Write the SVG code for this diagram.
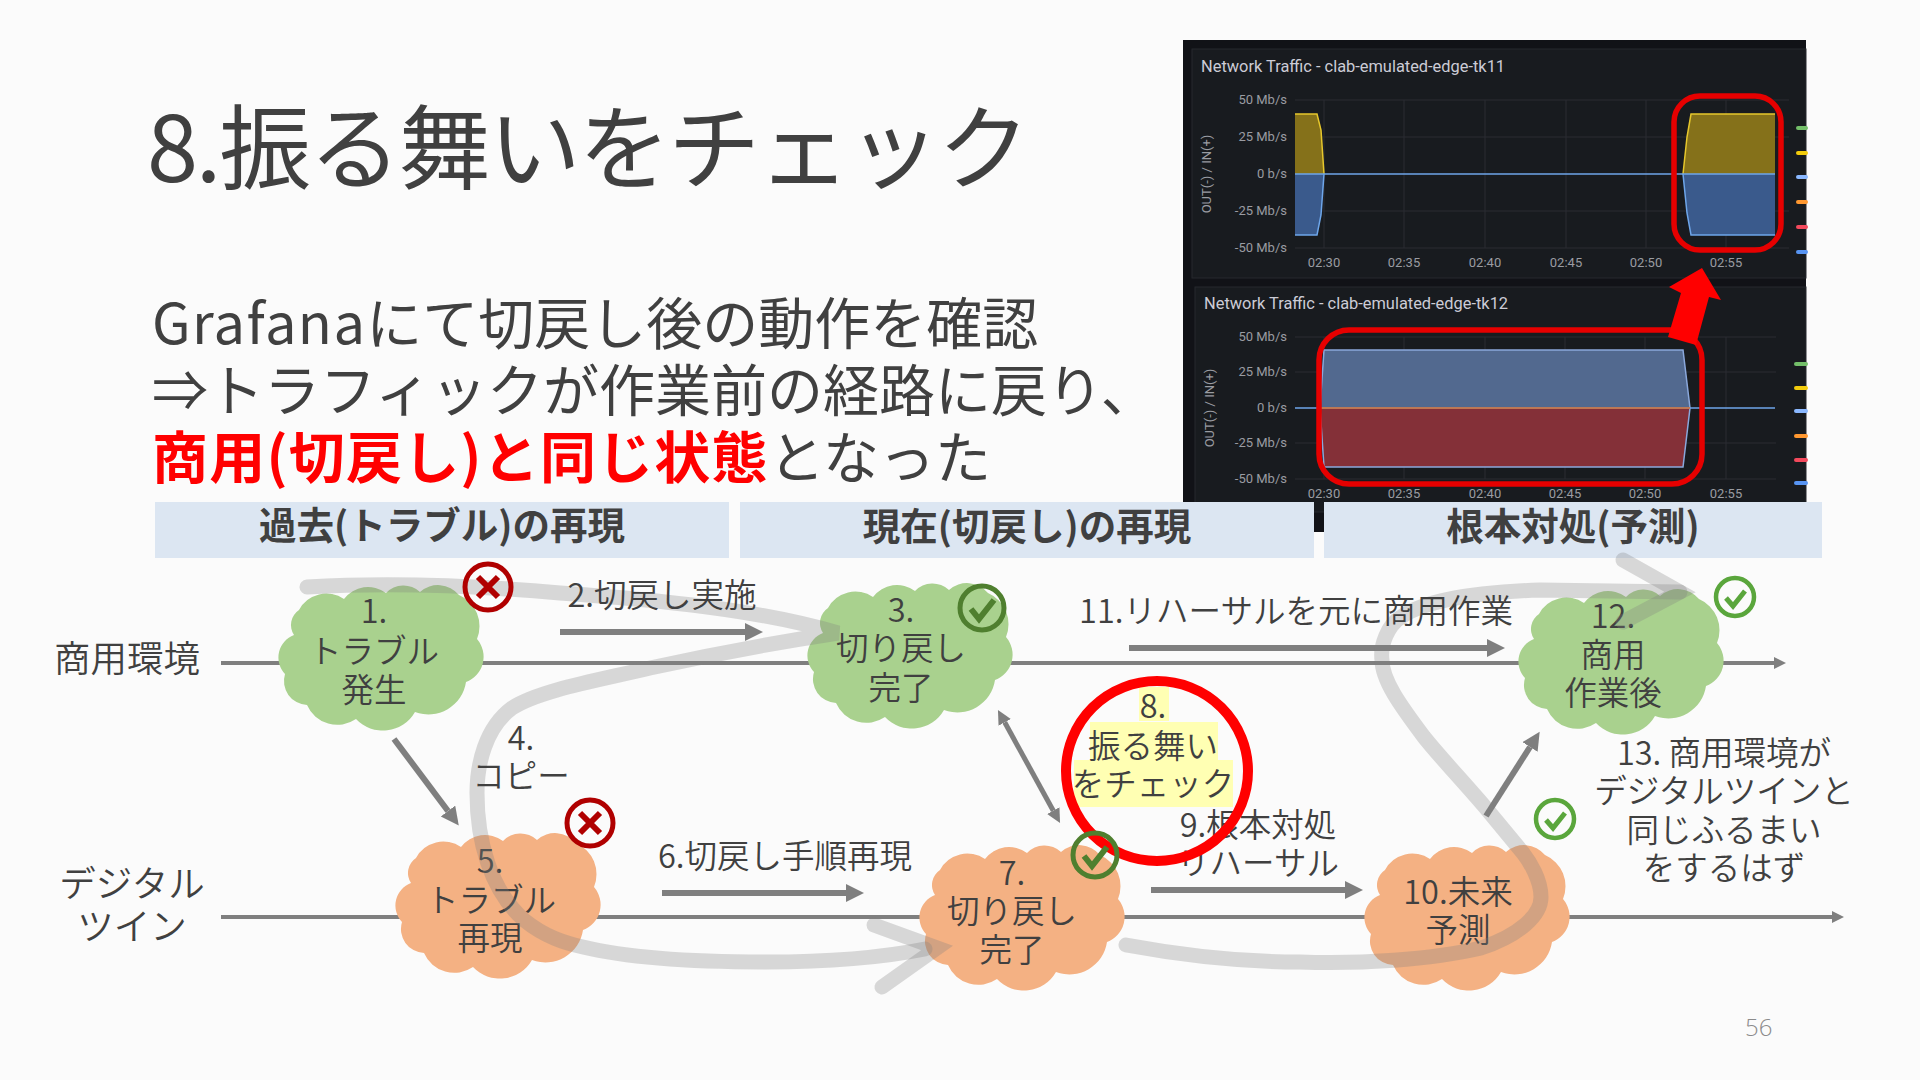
<svg xmlns="http://www.w3.org/2000/svg" width="1920" height="1080" viewBox="0 0 1920 1080">
<style>
text{font-family:"Noto Sans CJK JP","Noto Sans",sans-serif;font-weight:350;fill:#404040}
.t{font-size:32.5px;text-anchor:middle}
.h{font-size:37.5px;font-weight:700;text-anchor:middle}
.b{font-size:56px;font-weight:400}
.l{font-size:36.5px;text-anchor:middle}
.g{font-family:Roboto,"Liberation Sans",sans-serif;font-size:13px;fill:#9a9ca2;font-weight:400}
.e{text-anchor:end}.m{text-anchor:middle}
.ti{font-family:Roboto,"Liberation Sans",sans-serif;font-size:16.4px;fill:#ccccd6;font-weight:400}
.grid{stroke:#2a2d32;stroke-width:1;fill:none}
.main{stroke:#7f7f7f;stroke-width:4;fill:none}
.thick{stroke:#7f7f7f;stroke-width:6;fill:none}
.flow{fill:none;stroke:#7f7f7f;stroke-opacity:.29;stroke-width:15;stroke-linecap:round;stroke-linejoin:miter}
.green{fill:#a9d18e}.orange{fill:#f4b183}
.xr{fill:none;stroke:#b00000;stroke-width:5}
.cd{fill:none;stroke:#4f7f2f;stroke-width:5}
.cl{fill:none;stroke:#5aa63c;stroke-width:4.5}
.rr{fill:none;stroke:#e60000;stroke-width:5.5}
.band{fill:#dce6f2}
.hl{fill:#ffffb3}
</style>
<defs>
<path id="cloud" d="M67,12A30,30 0 0 1 109,6A24,24 0 0 1 143,5A27,27 0 0 1 182,8A34,34 0 0 1 200,52A27,27 0 0 1 189,95A38,38 0 0 1 138,125A37,37 0 0 1 79,132A33,33 0 0 1 30,118A24,24 0 0 1 8,87A24,24 0 0 1 17,48A18,18 0 0 1 22,23A31,31 0 0 1 67,12Z"/>
<marker id="a12" markerUnits="userSpaceOnUse" markerWidth="13" markerHeight="13" refX="0" refY="6" orient="auto"><path d="M0,0L12,6L0,12Z" fill="#7f7f7f"/></marker>
<marker id="a18" markerUnits="userSpaceOnUse" markerWidth="19" markerHeight="19" refX="0" refY="9" orient="auto"><path d="M0,0L18,9L0,18Z" fill="#7f7f7f"/></marker>
<marker id="a14" markerUnits="userSpaceOnUse" markerWidth="15" markerHeight="15" refX="0" refY="7" orient="auto-start-reverse"><path d="M0,0L14,7L0,14Z" fill="#7f7f7f"/></marker>
</defs>
<rect width="1920" height="1080" fill="#fbfbfb"/>

<g id="screenshot">
<rect x="1183" y="40" width="623" height="492" fill="#111217"/>
<rect x="1192" y="49" width="614" height="229" fill="#181b1f" stroke="#26292e"/>
<rect x="1195" y="287" width="611" height="225" fill="#181b1f" stroke="#26292e"/>
<text class="ti" x="1201" y="72">Network Traffic - clab-emulated-edge-tk11</text>
<text class="ti" x="1204" y="309">Network Traffic - clab-emulated-edge-tk12</text>
<path class="grid" d="M1295,100H1789M1295,137H1789M1295,211H1789M1295,248H1789M1324,100V248M1404,100V248M1485,100V248M1566,100V248M1646,100V248M1726,100V248"/>
<path class="grid" d="M1295,337H1776M1295,372H1776M1295,443H1776M1295,479H1776M1324,337V479M1404,337V479M1485,337V479M1565,337V479M1645,337V479M1726,337V479"/>
<path d="M1295,174V114H1317L1321,130L1324,174Z" fill="#85711a"/>
<path d="M1295,174V235H1317L1321,215L1324,174Z" fill="#3a5a8c"/>
<path d="M1683,174L1687,137L1691,114H1775V174Z" fill="#85711a"/>
<path d="M1683,174L1687,213L1691,235H1775V174Z" fill="#3a5a8c"/>
<path d="M1295,114H1317L1321,130L1324,174M1683,174L1687,137L1691,114H1775" fill="none" stroke="#e6c72c" stroke-width="1.5"/>
<path d="M1295,235H1317L1321,215L1324,174M1683,174L1687,213L1691,235H1775" fill="none" stroke="#6ea6ea" stroke-width="1.5"/>
<path d="M1295,174H1775" stroke="#6ea6ea" stroke-width="1.5"/>
<path d="M1320,408L1324,350H1683L1690,408Z" fill="#52698f"/>
<path d="M1320,408L1324,467H1683L1690,408Z" fill="#843038"/>
<path d="M1320,408L1324,350H1683L1690,408L1683,467H1324Z" fill="none" stroke="#8aa8dc" stroke-width="1.5"/>
<path d="M1295,408H1775" stroke="#6ea6ea" stroke-width="1.5"/>
<path d="M1320,408H1690" stroke="#d86f2f" stroke-width="1.5"/>
<g class="legend" fill="none" stroke-width="4" stroke-linecap="round">
<path d="M1798,128H1806" stroke="#73bf69"/><path d="M1798,153H1806" stroke="#f2cc0c"/><path d="M1798,177H1806" stroke="#8ab8ff"/><path d="M1798,202H1806" stroke="#ff9830"/><path d="M1798,227H1806" stroke="#f2495c"/><path d="M1798,252H1806" stroke="#5794f2"/>
<path d="M1796,364H1806" stroke="#73bf69"/><path d="M1796,388H1806" stroke="#f2cc0c"/><path d="M1796,411H1806" stroke="#8ab8ff"/><path d="M1796,436H1806" stroke="#ff9830"/><path d="M1796,460H1806" stroke="#f2495c"/><path d="M1796,483H1806" stroke="#5794f2"/>
</g>
<text class="g e" x="1287" y="104">50 Mb/s</text><text class="g e" x="1287" y="141">25 Mb/s</text><text class="g e" x="1287" y="178">0 b/s</text><text class="g e" x="1287" y="215">-25 Mb/s</text><text class="g e" x="1287" y="252">-50 Mb/s</text>
<text class="g m" x="1324" y="267">02:30</text><text class="g m" x="1404" y="267">02:35</text><text class="g m" x="1485" y="267">02:40</text><text class="g m" x="1566" y="267">02:45</text><text class="g m" x="1646" y="267">02:50</text><text class="g m" x="1726" y="267">02:55</text>
<text class="g e" x="1287" y="341">50 Mb/s</text><text class="g e" x="1287" y="376">25 Mb/s</text><text class="g e" x="1287" y="412">0 b/s</text><text class="g e" x="1287" y="447">-25 Mb/s</text><text class="g e" x="1287" y="483">-50 Mb/s</text>
<text class="g m" x="1324" y="498">02:30</text><text class="g m" x="1404" y="498">02:35</text><text class="g m" x="1485" y="498">02:40</text><text class="g m" x="1565" y="498">02:45</text><text class="g m" x="1645" y="498">02:50</text><text class="g m" x="1726" y="498">02:55</text>
<text class="g m" transform="translate(1211,174) rotate(-90)">OUT(-) / IN(+)</text>
<text class="g m" transform="translate(1214,408) rotate(-90)">OUT(-) / IN(+)</text>
<rect class="rr" x="1674" y="96" width="107" height="154" rx="26"/>
<rect class="rr" x="1319" y="330" width="383" height="154" rx="30"/>
<path d="M1702,268L1669,287L1681,293L1668,337L1696,345L1709,297L1721,300Z" fill="#ff0000"/>
</g>

<g id="title"><text x="147" y="182" style="font-size:92px;font-weight:400;letter-spacing:-2.2px">8.振る舞いをチェック</text></g>
<g id="body">
<text class="b" x="152" y="344"><tspan style="letter-spacing:1.4px">Grafana</tspan>にて切戻し後の動作を確認</text>
<text class="b" x="152" y="411">⇒トラフィックが作業前の経路に戻り、</text>
<text class="b" x="152" y="478"><tspan style="fill:#ff0000;font-weight:700;letter-spacing:1.2px">商用(切戻し)と同じ状態</tspan>となった</text>
</g>

<g id="bands">
<rect class="band" x="155" y="502" width="574" height="56"/>
<rect class="band" x="740" y="502" width="574" height="56"/>
<rect class="band" x="1324" y="502" width="498" height="56"/>
<text class="h" x="442" y="539">過去(トラブル)の再現</text>
<text class="h" x="1027" y="540">現在(切戻し)の再現</text>
<text class="h" x="1573" y="540">根本対処(予測)</text>
</g>

<g id="connectors">
<path class="main" d="M221,663H1774" marker-end="url(#a12)"/>
<path class="main" d="M221,917H1832" marker-end="url(#a12)"/>
<path class="thick" d="M560,632H745" marker-end="url(#a18)"/>
<path class="thick" d="M662,893H846" marker-end="url(#a18)"/>
<path class="thick" d="M1151,890H1345" marker-end="url(#a18)"/>
<path class="thick" d="M1129,648H1487" marker-end="url(#a18)"/>
<path class="thick" d="M394,739L448,811" marker-end="url(#a18)"/>
<path class="thick" d="M1486,816L1530,747" marker-end="url(#a18)"/>
<path d="M1004.7,722.3L1053.3,810.7" stroke="#7f7f7f" stroke-width="5" fill="none" marker-start="url(#a14)" marker-end="url(#a14)"/>
</g>

<g id="node1"><use href="#cloud" x="277" y="587" class="green"/><text class="t"><tspan x="374" y="623">1.</tspan><tspan x="374" y="663">トラブル</tspan><tspan x="374" y="702">発生</tspan></text></g>
<g id="node3"><use href="#cloud" x="806" y="585" class="green"/><text class="t"><tspan x="901" y="622">3.</tspan><tspan x="901" y="660">切り戻し</tspan><tspan x="901" y="700">完了</tspan></text></g>
<g id="node5"><use href="#cloud" x="394" y="835" class="orange"/><text class="t"><tspan x="490" y="873">5.</tspan><tspan x="491" y="912">トラブル</tspan><tspan x="490" y="950">再現</tspan></text></g>
<g id="node7"><use href="#cloud" x="918" y="847" class="orange"/><text class="t"><tspan x="1012" y="885">7.</tspan><tspan x="1012" y="923">切り戻し</tspan><tspan x="1012" y="962">完了</tspan></text></g>
<g id="node10"><use href="#cloud" x="1363" y="847" class="orange"/><text class="t"><tspan x="1458" y="904">10.未来</tspan><tspan x="1458" y="942">予測</tspan></text></g>
<g id="node12"><use href="#cloud" x="1517" y="591" class="green"/><text class="t"><tspan x="1613" y="628">12.</tspan><tspan x="1613" y="667">商用</tspan><tspan x="1613" y="705">作業後</tspan></text></g>

<g id="flows">
<path class="flow" d="M307,587C380,583 470,585 560,593C660,600 760,610 838,633C760,645 710,655 650,668C600,680 540,690 512,708C485,728 477,765 477,793C477,840 490,890 524,920C545,937 565,943 583,947C620,956 680,962 766,962C820,962 880,958 925,949"/>
<path class="flow" d="M874,925L937,948L882,987"/>
<path class="flow" d="M1126,945C1180,955 1240,962 1300,962C1360,964 1430,960 1481,948C1520,935 1541,915 1541,897C1541,880 1530,862 1523,853L1485,807C1460,778 1440,757 1424,737C1400,705 1382,680 1382,660C1380,645 1388,625 1401,617C1425,600 1480,592 1540,590L1680,592"/>
<path class="flow" d="M1623,560L1680,592L1623,622"/>
</g>

<g id="node8">
<rect class="hl" x="1139" y="687" width="30" height="34"/>
<rect class="hl" x="1090" y="722" width="128" height="39"/>
<rect class="hl" x="1074" y="760" width="159" height="47"/>
<text class="t"><tspan x="1153" y="718">8.</tspan><tspan x="1153" y="758">振る舞い</tspan><tspan x="1153" y="796">をチェック</tspan></text>
</g>

<g id="labels">
<text class="l" x="127" y="672">商用環境</text>
<text class="l"><tspan x="132" y="897">デジタル</tspan><tspan x="132" y="940">ツイン</tspan></text>
<text class="t" x="662" y="607">2.切戻し実施</text>
<text class="t"><tspan x="521" y="750">4.</tspan><tspan x="521" y="788">コピー</tspan></text>
<text class="t" x="785" y="868">6.切戻し手順再現</text>
<text class="t" x="1296" y="623">11.リハーサルを元に商用作業</text>
<text class="t"><tspan x="1258" y="837">9.根本対処</tspan><tspan x="1258" y="875">リハーサル</tspan></text>
<text class="t"><tspan x="1724" y="765">13. 商用環境が</tspan><tspan x="1724" y="803">デジタルツインと</tspan><tspan x="1724" y="842">同じふるまい</tspan><tspan x="1724" y="880">をするはず</tspan></text>
</g>

<g id="status">
<ellipse cx="1157" cy="771" rx="91" ry="90" fill="none" stroke="#ff0000" stroke-width="10"/>
<g id="x1"><circle class="xr" cx="488" cy="587" r="23"/><path class="xr" style="stroke-width:6" d="M478,577L498,597M498,577L478,597"/></g>
<g id="x5"><circle class="xr" cx="590" cy="823" r="23"/><path class="xr" style="stroke-width:6" d="M580,813L600,833M600,813L580,833"/></g>
<g id="c3"><circle class="cd" cx="982" cy="608" r="22"/><path class="cd" style="stroke-width:6" d="M971,609L979,619L994,600"/></g>
<g id="c7"><circle class="cd" cx="1095" cy="855" r="22"/><path class="cd" style="stroke-width:6" d="M1084,856L1092,866L1107,847"/></g>
<g id="c12"><circle class="cl" cx="1735" cy="597" r="19"/><path class="cl" style="stroke-width:5" d="M1726,598L1733,606L1745,591"/></g>
<g id="c10"><circle class="cl" cx="1555" cy="819" r="19"/><path class="cl" style="stroke-width:5" d="M1546,820L1553,828L1565,813"/></g>
</g>

<text id="page" x="1745" y="1036" style="font-size:24px;fill:#8b8b8b;font-family:'Open Sans',sans-serif">56</text>
</svg>
